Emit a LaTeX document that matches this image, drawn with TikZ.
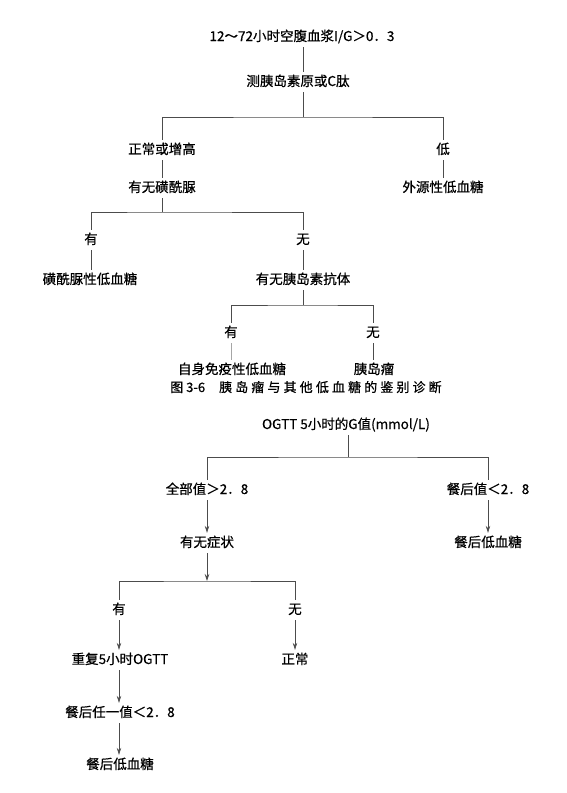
\documentclass[tikz,border=0pt]{standalone}
\usepackage{fontspec}
\setmainfont[FakeBold=0.6,AutoFakeBold=0.6]{Noto Sans CJK SC}
\usetikzlibrary{arrows.meta}
\begin{document}
\begin{tikzpicture}[x=1pt,y=-1pt,
  txt/.style={font=\fontsize{13.5}{14}\selectfont\bfseries, inner xsep=1pt, inner ysep=4pt, text height=10pt, text depth=2pt, text=black},
  captxt/.style={txt, font=\fontsize{13}{14}\selectfont\bfseries},
  ln/.style={draw=black!70, line width=0.7pt},
  ar/.style={ln, -{Stealth[length=7pt,width=4.5pt]}}]
\useasboundingbox (0,0) rectangle (567,793);
\fill[white] (0,0) rectangle (567,793);
% ---- Figure 3-6 ----
\node[txt] (t1) at (302,37) {12～72小时空腹血浆I/G＞0．3};
\node[txt] (t2) at (298,82) {测胰岛素原或C肽};
\node[txt] (n1) at (162,150) {正常或增高};
\node[txt] (n2) at (443,150) {低};
\node[txt] (n3) at (162,188) {有无磺酰脲};
\node[txt] (n4) at (443,188) {外源性低血糖};
\node[txt] (n5) at (91,240) {有};
\node[txt] (n6) at (303,240) {无};
\node[txt] (n7) at (90,280) {磺酰脲性低血糖};
\node[txt] (n8) at (303,280) {有无胰岛素抗体};
\node[txt] (n9) at (231,333) {有};
\node[txt] (n10) at (373,333) {无};
\node[txt] (n11) at (232,370) {自身免疫性低血糖};
\node[txt] (n12) at (374,370) {胰岛瘤};
\node[captxt] (c1) at (306,388) {图 3-6\hspace{14pt}{\addfontfeatures{LetterSpace=24}胰岛瘤与其他低血糖的鉴别诊断}};
\coordinate (b1) at (303,117);
\coordinate (b2) at (162,212);
\coordinate (b3) at (303,305);
\draw[ln] (t1.south -| b1) -- (t2.north -| b1);
\draw[ln] (t2.south -| b1) -- (b1);
\draw[ln] (n1.north) |- (b1) -| (n2.north);
\draw[ln] (n1) -- (n3);
\draw[ln] (n2) -- (n4);
\draw[ln] (n3) -- (b2);
\draw[ln] (n5.north) |- (b2) -| (n6.north);
\draw[ln] (n5.south) -- (n5.south |- n7.north);
\draw[ln] (n6) -- (n8);
\draw[ln] (n8) -- (b3);
\draw[ln] (n9.north) |- (b3) -| (n10.north);
\draw[ln, draw=black!35] (n9.south) -- (n9.south |- n11.north);
\draw[ln] (n10.south) -- (n10.south |- n12.north);
% ---- OGTT ----
\node[txt] (m1) at (346,425) {OGTT 5小时的G值(mmol/L)};
\node[txt] (m2) at (207,490) {全部值＞2．8};
\node[txt] (m3) at (488,490) {餐后值＜2．8};
\node[txt] (m4) at (207,543) {有无症状};
\node[txt] (m5) at (488,543) {餐后低血糖};
\node[txt] (m6) at (119,610) {有};
\node[txt] (m7) at (295,610) {无};
\node[txt] (m8) at (120,660) {重复5小时OGTT};
\node[txt] (m9) at (295,660) {正常};
\node[txt] (m10) at (120,713) {餐后任一值＜2．8};
\node[txt] (m11) at (120,765) {餐后低血糖};
\coordinate (d1) at (348,457);
\coordinate (d2) at (207,581);
\draw[ln] (m1.south -| d1) -- (d1);
\draw[ln] (m2.north) |- (d1) -| (m3.north);
\draw[ar] (m2) -- (m4);
\draw[ar] (m3) -- (m5);
\draw[ar] (m4) -- (d2);
\draw[ln] (m6.north) |- (d2) -| (m7.north);
\draw[ar] (m6.south) -- (m6.south |- m8.north);
\draw[ar] (m7) -- (m9);
\draw[ar] (m8.south -| m6) -- (m10.north -| m6);
\draw[ar] (m10.south -| m6) -- (m11.north -| m6);
\end{tikzpicture}
\end{document}
